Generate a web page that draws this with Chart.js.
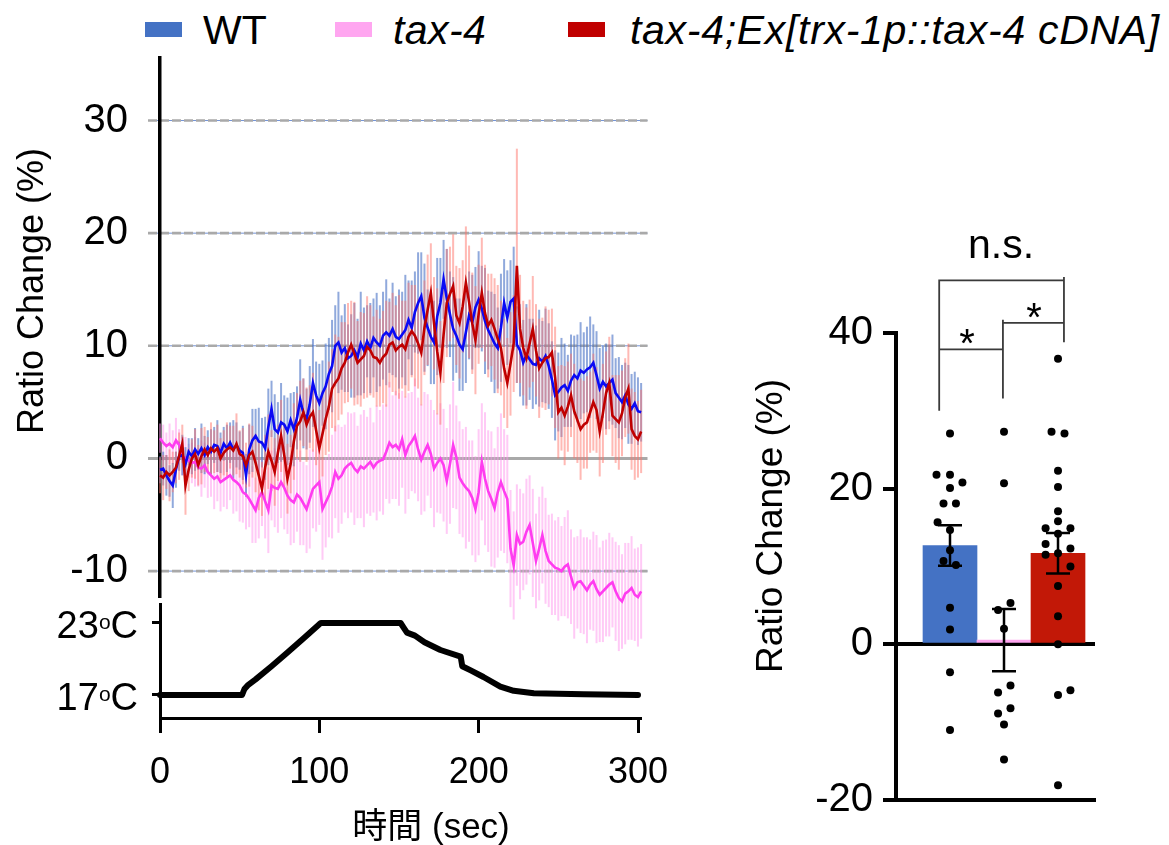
<!DOCTYPE html>
<html><head><meta charset="utf-8">
<script src="https://cdn.jsdelivr.net/npm/chart.js@4.4.1/dist/chart.umd.min.js"></script>
<style>
html,body{margin:0;padding:0;background:#fff;width:1169px;height:845px;overflow:hidden;font-family:"Liberation Sans",Arial,sans-serif;}
canvas{position:absolute;}
#legend{position:absolute;left:0;top:0;width:1169px;height:60px;}
.lg-box{position:absolute;width:37px;height:15px;top:22px;}
.lg-text{position:absolute;top:10px;font-size:41px;line-height:41px;white-space:nowrap;color:#000;}
</style></head><body>
<div id="legend"></div>
<canvas id="temp" width="700" height="247" style="left:0;top:598px"></canvas>
<canvas id="main" width="660" height="660" style="left:0;top:0"></canvas>
<canvas id="bars" width="469" height="645" style="left:700px;top:200px"></canvas>
<script>
// ---------- DATA ----------
const seriesNames = ['WT', 'tax-4', 'tax-4;Ex[trx-1p::tax-4 cDNA]'];
const timeStep = 2; // seconds between samples, first sample at 0 s

const wtMean = [
-1.0,-0.9,-1.5,-2.0,-2.4,-1.0,0.2,0.3,-0.5,0.6,
0.2,0.8,0.4,0.9,0.3,1.0,0.6,1.2,1.1,0.5,
1.3,0.9,1.4,0.8,1.2,0.7,0.5,-1.5,0.8,1.6,
2.0,1.5,1.4,0.9,2.8,4.4,2.6,2.3,3.2,3.0,
2.4,3.4,2.6,3.6,5.2,4.0,3.5,4.8,6.7,5.6,
4.9,5.8,6.4,7.5,8.2,10.0,10.3,9.4,9.8,8.9,
9.1,9.6,9.0,10.2,9.6,10.4,9.8,10.7,10.3,10.0,
10.9,11.2,10.9,11.5,10.8,10.6,11.0,11.4,12.3,11.6,
13.0,13.8,14.4,12.5,11.6,10.8,10.3,12.6,13.8,15.9,
14.2,12.8,11.5,10.9,10.1,9.7,11.2,12.7,12.1,13.4,
14.1,13.3,12.2,11.4,10.8,10.2,9.8,11.6,13.8,12.5,
13.9,14.2,10.1,9.6,8.5,9.2,8.8,8.4,8.3,8.9,
8.6,9.1,8.2,7.0,5.6,5.9,6.3,6.5,6.0,6.9,
7.4,7.1,7.8,7.6,7.9,8.1,8.5,7.4,6.2,6.8,
6.4,6.7,7.0,5.8,5.4,5.0,5.6,4.8,4.4,4.9,
4.2,4.1];
const wtSem = [
1.2,1.5,1.8,1.4,2.0,1.6,1.3,1.8,1.5,1.2,
1.6,1.9,1.4,2.2,1.7,1.5,2.0,1.6,2.3,1.8,
1.5,2.1,1.8,2.6,2.0,1.7,2.4,1.9,2.2,2.8,
2.4,3.0,2.2,2.8,3.4,2.5,3.1,2.7,3.5,2.6,
3.0,2.4,3.3,2.8,3.6,3.1,2.7,3.4,3.9,3.0,
3.5,2.9,3.8,3.2,4.1,3.6,4.5,3.3,3.9,3.0,
3.7,4.2,3.4,4.6,3.8,3.2,4.0,3.5,4.4,3.6,
3.9,4.7,3.3,4.1,3.6,4.4,3.8,4.9,3.5,4.2,
3.6,4.5,3.9,4.8,3.4,4.2,3.7,5.2,4.0,3.5,
4.4,3.8,4.6,3.3,4.1,3.7,4.5,3.9,4.2,3.6,
4.3,3.8,4.7,3.5,4.0,4.4,3.6,4.8,3.9,4.2,
3.7,4.6,3.4,4.1,3.8,4.5,3.6,4.0,3.5,4.3,
3.6,4.2,3.8,3.4,4.0,3.5,4.4,3.7,3.2,4.1,
3.5,3.9,4.3,3.6,3.8,4.5,3.4,3.9,3.6,3.2,
3.8,3.4,4.0,3.1,3.6,3.3,2.9,3.5,3.1,2.8,
3.0,2.6];

const tax4Mean = [
1.8,1.4,1.1,1.3,1.0,1.6,1.2,0.2,0.0,-0.2,
-0.4,-0.3,-0.8,-0.9,-0.6,-1.2,-1.5,-1.8,-1.6,-2.1,
-1.9,-1.7,-1.5,-1.9,-2.1,-2.4,-3.0,-3.2,-3.6,-4.1,
-4.6,-3.5,-3.0,-3.8,-4.6,-2.4,-2.6,-2.7,-2.1,-2.6,
-3.3,-3.7,-3.9,-3.2,-3.5,-4.0,-4.5,-3.6,-2.7,-2.4,
-2.1,-4.5,-3.9,-3.3,-2.5,-1.2,-1.8,-1.5,-0.9,-0.6,
-0.4,-0.9,-1.2,-0.7,-0.9,-0.6,-0.3,-0.8,-0.4,-0.2,
-0.1,0.6,1.4,1.0,1.2,0.8,1.7,0.3,1.1,1.5,
2.0,0.8,-0.1,0.6,1.2,0.4,-0.9,-0.4,0.0,-0.6,
-2.0,-0.5,1.2,0.1,-1.7,-2.2,-2.6,-2.9,-3.5,-4.5,
-3.0,-0.3,-1.8,-2.9,-3.6,-4.4,-3.0,-2.1,-2.9,-3.6,
-8.0,-9.5,-6.8,-7.6,-7.4,-6.5,-5.9,-7.5,-9.1,-8.0,
-6.8,-8.2,-9.1,-9.4,-9.7,-9.8,-10.0,-9.6,-9.4,-10.5,
-11.5,-11.0,-10.9,-11.3,-11.7,-11.2,-10.9,-11.6,-12.1,-11.8,
-11.5,-11.2,-11.0,-11.8,-12.4,-12.7,-12.0,-11.8,-11.5,-12.1,
-12.3,-11.8];
const tax4Sem = [
1.3,1.6,1.2,1.8,1.5,2.0,1.4,1.7,1.9,1.5,
1.8,2.2,1.7,2.5,2.0,2.3,1.9,2.7,2.2,2.6,
2.4,2.8,2.2,3.0,2.6,3.2,2.7,3.1,2.5,3.4,
2.9,3.6,3.0,3.3,3.8,3.1,3.5,3.9,3.2,3.7,
3.4,4.0,3.6,3.3,4.2,3.7,3.9,4.4,3.5,4.1,
3.8,4.5,4.0,3.7,4.6,4.1,4.8,4.3,3.9,4.7,
4.4,5.0,4.1,4.6,5.2,4.3,4.8,4.0,5.1,4.5,
4.9,4.2,5.4,4.6,4.8,5.0,4.3,5.2,4.7,4.4,
5.1,4.6,4.9,5.3,4.5,4.8,5.2,4.4,4.9,5.0,
4.7,5.3,5.6,4.6,5.0,4.8,5.4,4.5,5.1,4.7,
5.6,5.2,5.9,5.4,6.0,5.3,5.8,6.1,5.5,5.7,
5.2,4.8,4.5,4.9,4.3,4.7,4.4,4.8,4.2,4.6,
4.3,4.7,4.1,4.5,4.2,4.6,4.0,4.4,4.8,4.2,
4.5,4.1,4.6,4.3,4.7,4.0,4.4,4.8,4.2,4.5,
4.3,4.6,4.0,4.4,4.7,4.2,4.5,4.3,4.6,4.1,
4.4,4.2];

const rescueMean = [
-1.5,-1.7,-1.2,-1.5,-1.2,-0.8,0.2,1.3,-2.4,-1.0,
0.0,0.4,-0.6,0.2,0.8,0.3,0.9,0.6,0.9,0.0,
0.5,0.8,1.0,0.7,1.3,0.4,0.2,-0.6,0.3,0.6,
-0.4,-1.5,-2.7,-0.8,0.6,-0.2,-1.2,0.5,2.0,0.3,
-1.8,-0.5,1.5,2.9,3.3,4.1,3.0,3.7,4.1,2.5,
0.9,2.2,3.5,4.6,6.2,6.7,7.1,8.0,8.5,9.4,
10.1,9.3,8.5,8.8,9.1,9.9,9.6,9.0,8.9,8.5,
9.0,9.3,10.1,10.3,9.6,9.9,10.1,9.7,10.8,11.3,
10.9,10.2,9.4,11.6,13.2,14.7,12.0,9.5,7.6,11.0,
13.8,14.6,15.3,12.7,12.0,13.5,15.6,13.9,12.0,10.5,
12.8,14.7,12.9,11.8,12.3,11.5,10.6,9.8,8.0,6.7,
8.4,10.2,17.1,11.5,9.8,8.9,10.2,11.5,9.6,8.0,
8.5,8.9,9.0,9.4,7.2,4.1,4.5,3.8,4.6,5.6,
4.2,3.4,2.6,3.0,3.2,4.1,5.0,4.3,2.4,4.0,
5.8,6.7,3.8,3.5,3.2,4.0,5.4,6.2,2.6,2.0,
1.7,2.4];
const rescueSem = [
1.6,2.0,1.5,2.3,1.8,1.4,2.1,1.7,2.6,1.9,
1.7,2.2,1.8,2.5,2.0,1.6,2.3,1.9,2.1,1.8,
2.0,2.4,1.9,2.2,2.7,2.1,2.5,2.0,2.8,2.3,
2.6,3.1,2.4,2.9,3.3,2.7,3.0,2.5,3.2,2.8,
3.1,2.6,3.4,2.9,3.6,3.0,3.3,2.8,3.5,3.1,
3.4,3.8,3.2,4.0,3.5,4.3,3.7,4.1,3.6,4.4,
3.9,4.6,3.7,4.2,3.8,4.5,4.0,3.6,4.3,3.9,
4.1,4.7,3.8,4.4,4.0,4.6,3.9,4.3,4.8,4.1,
4.5,4.0,4.7,4.2,4.9,4.4,4.1,5.6,4.6,4.3,
4.8,4.2,4.6,4.4,4.9,4.1,5.0,5.0,4.5,4.8,
4.4,4.9,4.3,4.6,4.1,4.5,4.8,4.2,4.4,4.0,
4.6,4.3,10.4,4.8,4.2,4.5,3.9,4.7,4.1,4.4,
4.0,4.6,4.2,3.9,4.5,4.1,3.8,4.4,4.0,3.7,
4.2,3.8,4.5,3.9,4.1,3.6,4.3,3.8,4.0,4.4,
3.7,4.1,3.6,3.9,4.2,3.8,3.5,4.0,3.6,3.9,
3.4,3.7];

const mainYTicks = [-10, 0, 10, 20, 30];

// stimulus temperature (time in s, temperature in degC)
const tempTimes  = [0, 51.5, 53, 55, 60, 70, 80, 90, 100, 101, 151, 153, 155, 160, 166, 176, 188.7, 189.7, 195, 203, 213.6, 222, 234.6, 250, 266, 300];
const tempValues = [17.0, 17.0, 17.5, 17.8, 18.3, 19.4, 20.55, 21.7, 22.9, 23.0, 23.0, 22.6, 22.2, 21.95, 21.4, 20.75, 20.2, 19.4, 19.05, 18.5, 17.7, 17.35, 17.15, 17.1, 17.06, 17.0];
const tempTicks = [17, 23];
const timeTicks = [0, 100, 200, 300];

// bar panel
const barMeans = [12.7, 0.55, 11.7];
const barSems  = [2.6, 4.0, 2.6];
const wtDots     = [27.1,21.8,21.8,20.8,20.1,18.1,18.1,15.7,14.7,12.1,10.7,10.2,4.7,1.9,-3.6,-11.0];
const wtJitter   = [0,-0.25,0,0.23,0,-0.12,0.11,-0.23,0,0,-0.12,0.11,0,0,0,0];
const tax4Dots   = [27.3,20.7,5.3,4.4,2.0,-5.3,-6.2,-8.2,-8.9,-10.3,-14.8];
const tax4Jitter = [0,0,0.12,-0.11,0,0.12,-0.11,0.12,-0.11,0,0];
const rescueDots   = [36.7,27.3,27.1,22.3,20.2,17.1,15.8,14.9,14.9,14.2,12.9,12.3,11.7,11.5,10.0,7.5,3.6,0.0,-5.9,-6.5,-18.1];
const rescueJitter = [0,-0.12,0.12,0,0,0,0,-0.23,0.23,0,-0.23,0.23,0,-0.23,0.23,0,0,0,0.23,0,0];
const barYTicks = [-20, 0, 20, 40];
const sigLabels = ['n.s.', '*', '*'];

// ---------- STYLE ----------
const FONT = '"Liberation Sans", Arial, "Noto Sans CJK JP", sans-serif';
Chart.defaults.font.family = FONT;
Chart.defaults.color = '#000';
const legendColors = ['#4472c4', '#ffa6f0', '#c00000'];
const legendItalic = [false, true, true];
const legendSpacing = [0, 0.4, 0.7];
const legendBoxX = [145, 335, 568];
const legendTextX = [203, 393, 630];
const lineColors = ['#0a0af5', '#ff3cf0', '#c00000'];
const errColors = ['rgba(70,112,196,0.6)', 'rgba(255,150,238,0.5)', 'rgba(255,115,105,0.5)'];
const barColors = ['#4472c4', '#ffa6f0', '#c21807'];

// fixes a scale's range and tick list
const fixScale = (min, max, ticks) => s => { s.min = min; s.max = max; s.ticks = ticks.map(v => ({value: v})); };

// ---------- LEGEND (HTML) ----------
const lg = document.getElementById('legend');
seriesNames.forEach((name, i) => {
  const b = document.createElement('div');
  b.className = 'lg-box'; b.style.left = legendBoxX[i] + 'px'; b.style.background = legendColors[i];
  lg.appendChild(b);
  const t = document.createElement('div');
  t.className = 'lg-text'; t.style.left = legendTextX[i] + 'px';
  t.style.fontStyle = legendItalic[i] ? 'italic' : 'normal';
  t.style.letterSpacing = legendSpacing[i] + 'px';
  t.textContent = name;
  lg.appendChild(t);
});

// ---------- MAIN TIME-COURSE ----------
const toXY = arr => arr.map((v, i) => ({x: i * timeStep, y: v}));
const mainSets = [
  {label: seriesNames[0], data: toXY(wtMean), sem: wtSem, borderColor: lineColors[0], errColor: errColors[0], order: 2},
  {label: seriesNames[1], data: toXY(tax4Mean), sem: tax4Sem, borderColor: lineColors[1], errColor: errColors[1], order: 3},
  {label: seriesNames[2], data: toXY(rescueMean), sem: rescueSem, borderColor: lineColors[2], errColor: errColors[2], order: 1}
].map(d => Object.assign(d, {borderWidth: 2.6, pointRadius: 0, tension: 0, clip: false, fill: false}));

const mainPlugin = {
  id: 'mainDecor',
  beforeDraw(chart) {
    const {ctx, scales: {y}, chartArea: ca} = chart;
    ctx.save();
    mainYTicks.forEach(v => {
      const py = y.getPixelForValue(v);
      ctx.beginPath(); ctx.moveTo(ca.left - 12, py); ctx.lineTo(ca.right, py);
      if (v === 0) {
        ctx.setLineDash([]); ctx.strokeStyle = '#a9a9a9'; ctx.lineWidth = 3; ctx.stroke();
      } else {
        ctx.setLineDash([]); ctx.strokeStyle = 'rgba(100,135,210,0.9)'; ctx.lineWidth = 1; ctx.stroke();
        ctx.beginPath(); ctx.moveTo(ca.left - 12, py); ctx.lineTo(ca.right, py);
        ctx.setLineDash([9, 3]); ctx.strokeStyle = '#a9a9a9'; ctx.lineWidth = 2.6; ctx.stroke();
      }
    });
    ctx.restore();
  },
  beforeDatasetsDraw(chart) {
    const {ctx, scales: {x, y}} = chart;
    ctx.save();
    const sets = chart.data.datasets.slice().sort((a, b) => b.order - a.order);
    sets.forEach(ds => {
      ctx.strokeStyle = ds.errColor; ctx.lineWidth = 2;
      ds.data.forEach((p, i) => {
        const px = x.getPixelForValue(p.x);
        ctx.beginPath();
        ctx.moveTo(px, y.getPixelForValue(p.y + ds.sem[i]));
        ctx.lineTo(px, y.getPixelForValue(p.y - ds.sem[i]));
        ctx.stroke();
      });
    });
    ctx.restore();
  },
  afterDraw(chart) {
    const {ctx} = chart;
    ctx.save();
    ctx.translate(33, 291); ctx.rotate(-Math.PI / 2);
    ctx.font = '36px ' + FONT; ctx.fillStyle = '#000';
    ctx.textAlign = 'center'; ctx.textBaseline = 'middle';
    ctx.fillText('Ratio Change (%)', 0, 0);
    ctx.restore();
  }
};

new Chart(document.getElementById('main'), {
  type: 'line',
  data: {datasets: mainSets},
  options: {
    responsive: false, animation: false, events: [],
    layout: {padding: {top: 58, right: 12.5, bottom: 63, left: 0}},
    plugins: {legend: {display: false}, tooltip: {enabled: false}},
    scales: {
      x: {type: 'linear', min: 0, max: 306, display: false, offset: false},
      y: {
        min: -12.3, max: 35.55,
        afterBuildTicks: fixScale(-12.3, 35.55, mainYTicks),
        afterFit: s => { s.width = 160; },
        grid: {display: false, drawTicks: false},
        border: {display: true, color: '#000', width: 3.5},
        ticks: {font: {size: 40}, color: '#000', padding: 32}
      }
    }
  },
  plugins: [mainPlugin]
});

// ---------- TEMPERATURE ----------
const tempPlugin = {
  id: 'tempDecor',
  afterDraw(chart) {
    const {ctx, scales: {y}} = chart;
    ctx.save(); ctx.fillStyle = '#000'; ctx.textBaseline = 'alphabetic'; ctx.textAlign = 'left';
    tempTicks.forEach(v => {
      const base = y.getPixelForValue(v) + 15;
      ctx.font = '38px ' + FONT; const wC = ctx.measureText('C').width; const wN = ctx.measureText(String(v)).width;
      ctx.font = '21px ' + FONT; const wo = ctx.measureText('o').width;
      const xr = 138;
      ctx.font = '38px ' + FONT; ctx.fillText('C', xr - wC, base);
      ctx.font = '21px ' + FONT; ctx.fillText('o', xr - wC - wo, base - 9);
      ctx.font = '38px ' + FONT; ctx.fillText(String(v), xr - wC - wo - wN, base);
    });
    ctx.font = '35px ' + FONT; ctx.textAlign = 'center'; ctx.textBaseline = 'middle';
    ctx.fillText('時間 (sec)', 431, 230);
    ctx.restore();
  }
};

new Chart(document.getElementById('temp'), {
  type: 'line',
  data: {datasets: [{
    label: 'temperature',
    data: tempTimes.map((t, i) => ({x: t, y: tempValues[i]})),
    borderColor: '#000', borderWidth: 6, pointRadius: 0, tension: 0,
    borderJoinStyle: 'round', borderCapStyle: 'round', clip: false
  }]},
  options: {
    responsive: false, animation: false, events: [],
    layout: {padding: {top: 6, right: 58.8, bottom: 0, left: 0}},
    plugins: {legend: {display: false}, tooltip: {enabled: false}},
    scales: {
      x: {
        type: 'linear', min: 0, max: 302, offset: false,
        afterBuildTicks: fixScale(0, 302, timeTicks),
        afterFit: s => { s.height = 127; },
        grid: {display: true, drawOnChartArea: false, drawTicks: true, tickLength: 15, tickWidth: 3, tickColor: '#000', offset: false},
        border: {display: true, color: '#000', width: 3},
        ticks: {font: {size: 36}, color: '#000', padding: 18, maxRotation: 0, autoSkip: false}
      },
      y: {
        min: 15.083, max: 24.583,
        afterBuildTicks: fixScale(15.083, 24.583, tempTicks),
        afterFit: s => { s.width = 160; },
        grid: {display: true, drawOnChartArea: false, drawTicks: true, tickLength: 8, tickWidth: 3, tickColor: '#000'},
        border: {display: true, color: '#000', width: 3},
        ticks: {display: false}
      }
    }
  },
  plugins: [tempPlugin]
});

// ---------- BAR PANEL ----------
const dotData = [];
[[wtDots, wtJitter], [tax4Dots, tax4Jitter], [rescueDots, rescueJitter]].forEach(([vals, jit], g) => {
  vals.forEach((v, i) => dotData.push({x: g + jit[i], y: v}));
});

// significance brackets in data units (x: group index, y: % value)
const brackets = [
  [[-0.2, 30.0], [-0.2, 46.75], [2.11, 46.75]],
  [[2.11, 47.2], [2.11, 38.8]],
  [[-0.2, 37.9], [0.98, 37.9]],
  [[0.98, 41.7], [0.98, 31.6]],
  [[0.98, 41.3], [2.11, 41.3]]
];
const sigPos = [[0.944, 49.7], [0.315, 36.9], [1.556, 40.2]];

const barPlugin = {
  id: 'barDecor',
  afterDatasetsDraw(chart) {
    const {ctx, scales: {x, y}} = chart;
    ctx.save(); ctx.strokeStyle = '#000'; ctx.lineWidth = 2.5;
    barMeans.forEach((m, i) => {
      const px = x.getPixelForValue(i);
      const yt = y.getPixelForValue(m + barSems[i]), yb = y.getPixelForValue(m - barSems[i]);
      ctx.beginPath();
      ctx.moveTo(px, yt); ctx.lineTo(px, yb);
      ctx.moveTo(px - 12, yt); ctx.lineTo(px + 12, yt);
      ctx.moveTo(px - 12, yb); ctx.lineTo(px + 12, yb);
      ctx.stroke();
    });
    ctx.restore();
  },
  afterDraw(chart) {
    const {ctx, scales: {x, y}} = chart;
    ctx.save();
    ctx.strokeStyle = '#3a3a3a'; ctx.lineWidth = 1.8;
    brackets.forEach(pts => {
      ctx.beginPath();
      pts.forEach(([bx, by], k) => {
        const px = x.getPixelForValue(bx), py = y.getPixelForValue(by);
        if (k === 0) ctx.moveTo(px, py); else ctx.lineTo(px, py);
      });
      ctx.stroke();
    });
    ctx.fillStyle = '#000'; ctx.textAlign = 'center'; ctx.textBaseline = 'alphabetic';
    sigLabels.forEach((t, i) => {
      ctx.font = (t === '*' ? '40px ' : '41px ') + FONT;
      ctx.fillText(t, x.getPixelForValue(sigPos[i][0]), y.getPixelForValue(sigPos[i][1]));
    });
    ctx.translate(72, 326); ctx.rotate(-Math.PI / 2);
    ctx.font = '37px ' + FONT; ctx.textBaseline = 'middle';
    ctx.fillText('Ratio Change (%)', 0, 0);
    ctx.restore();
  }
};

new Chart(document.getElementById('bars'), {
  type: 'bar',
  data: {datasets: [
    {type: 'bar', label: 'mean', data: barMeans.map((m, i) => ({x: i, y: m})),
     backgroundColor: barColors, borderWidth: 0, barPercentage: 1, categoryPercentage: 1, order: 2},
    {type: 'scatter', label: 'animals', data: dotData, pointRadius: 4, pointBackgroundColor: '#000',
     pointBorderWidth: 0, borderWidth: 0, order: 1, clip: false}
  ]},
  options: {
    responsive: false, animation: false, events: [],
    layout: {padding: {top: 133, right: 74, bottom: 0, left: 0}},
    plugins: {legend: {display: false}, tooltip: {enabled: false}},
    scales: {
      x: {
        type: 'linear', min: -1, max: 2.685, offset: false,
        afterBuildTicks: fixScale(-1, 2.685, []),
        afterFit: s => { s.height = 45; },
        ticks: {display: false}, grid: {display: false, offset: false},
        border: {display: true, color: '#000', width: 4}
      },
      y: {
        min: -20, max: 40,
        afterBuildTicks: fixScale(-20, 40, barYTicks),
        afterFit: s => { s.width = 196; },
        grid: {
          color: c => (c.tick && c.tick.value === 0) ? '#000' : 'rgba(0,0,0,0)',
          lineWidth: 4, drawTicks: true, tickLength: 13, tickWidth: 4, tickColor: '#000'
        },
        border: {display: true, color: '#000', width: 4},
        ticks: {font: {size: 40}, color: '#000', padding: 10}
      }
    }
  },
  plugins: [barPlugin]
});
</script>
</body></html>
